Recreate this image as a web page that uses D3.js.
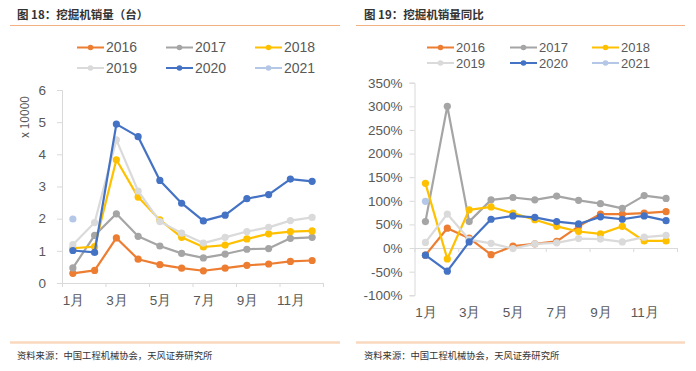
<!DOCTYPE html>
<html><head><meta charset="utf-8">
<script src="https://cdn.jsdelivr.net/npm/d3@7"></script>
<style>
body{margin:0;background:#fff;}
svg{display:block;font-family:"Noto Sans CJK SC","Noto Sans",sans-serif;}
</style></head><body>
<svg id="c" width="696" height="371"></svg>
<script>
const months = [1,2,3,4,5,6,7,8,9,10,11,12];
const monthLabels = [1,3,5,7,9,11];
const years = ["2016","2017","2018","2019","2020","2021"];
const colors = ["#ED7D31","#A5A5A5","#FFC000","#DADADA","#4472C4","#B4C7E7"];

// Sales, unit: 10000 units
const sales2016 = [0.30,0.39,1.40,0.74,0.57,0.46,0.38,0.46,0.55,0.59,0.67,0.70];
const sales2017 = [0.47,1.48,2.15,1.45,1.15,0.92,0.78,0.90,1.05,1.07,1.39,1.42];
const sales2018 = [1.08,1.13,3.83,2.67,1.96,1.42,1.12,1.18,1.37,1.53,1.60,1.62];
const sales2019 = [1.19,1.88,4.45,2.86,1.91,1.55,1.24,1.42,1.60,1.73,1.94,2.04];
const sales2020 = [1.01,0.95,4.94,4.55,3.19,2.48,1.93,2.11,2.62,2.75,3.23,3.16];
const sales2021 = [1.99];

// Year-over-year growth, %
const yoy2016 = [-15,42,21,-14,4,9,14,46,72,72,74,77];
const yoy2017 = [56,300,56,102,107,102,110,101,94,84,111,105];
const yoy2018 = [137,-23,81,87,74,60,46,35,30,46,15,15];
const yoy2019 = [12,72,18,10,-1,9,11,20,19,13,23,27];
const yoy2020 = [-15,-49,13,61,68,65,56,51,66,61,68,58];
const yoy2021 = [99];

const salesTicks = [0,1,2,3,4,5,6];
const yoyTicks = [-100,-50,0,50,100,150,200,250,300,350];

const salesSeries = [sales2016,sales2017,sales2018,sales2019,sales2020,sales2021];
const yoySeries = [yoy2016,yoy2017,yoy2018,yoy2019,yoy2020,yoy2021];

const svg = d3.select("#c");
const axisColor = "#D9D9D9", labelColor = "#595959";

function header(x0, x1, title, tx){
  svg.append("text").attr("x",tx).attr("y",19).attr("font-size",11.5).attr("font-weight","bold")
    .attr("fill","#333").text(title);
  svg.append("line").attr("x1",x0).attr("x2",x1).attr("y1",25.5).attr("y2",25.5)
    .attr("stroke","#F4B183").attr("stroke-width",1);
  svg.append("line").attr("x1",x0).attr("x2",x1).attr("y1",342.5).attr("y2",342.5)
    .attr("stroke","#F8D9BF").attr("stroke-width",2.5);
  svg.append("text").attr("x",tx).attr("y",358.5).attr("font-size",9.3)
    .attr("fill","#333").text("资料来源：中国工程机械协会，天风证券研究所");
}

function legend(lx, rows, fs){
  years.forEach((yr,i)=>{
    const col = i%3, row = Math.floor(i/3);
    const x = lx[col], y = rows[row];
    const g = svg.append("g");
    g.append("line").attr("x1",x).attr("x2",x+27).attr("y1",y).attr("y2",y)
      .attr("stroke",colors[i]).attr("stroke-width",2);
    g.append("circle").attr("cx",x+13.5).attr("cy",y).attr("r",2.8).attr("fill",colors[i]);
    g.append("text").attr("x",x+29).attr("y",y+4.8).attr("font-size",fs)
      .attr("font-family","'Liberation Sans',Arial,sans-serif")
      .attr("fill",labelColor).text(yr);
  });
}

function chart(opt){
  const x = d3.scaleLinear().domain([0.5,12.5]).range(opt.xr);
  const y = d3.scaleLinear().domain(opt.yd).range(opt.yr);

  // y axis
  const ya = svg.append("g").attr("transform",`translate(${opt.xr[0]},0)`)
    .call(d3.axisLeft(y).tickValues(opt.yTicks).tickSize(5).tickPadding(opt.yPad).tickFormat(opt.yFmt));
  ya.selectAll("path,line").attr("stroke",axisColor);
  ya.selectAll("text").attr("fill",labelColor).attr("font-size",13.5).attr("font-family","inherit");

  // x axis line with boundary ticks at zero
  const xa = svg.append("g").attr("transform",`translate(0,${y(0)})`)
    .call(d3.axisBottom(x).tickValues(d3.range(0.5,13,2)).tickSize(4).tickSizeOuter(0).tickFormat(""));
  xa.selectAll("path,line").attr("stroke",axisColor);

  // x labels below the plot
  const xl = svg.append("g").attr("transform",`translate(0,${y(opt.yd[0])+opt.xLabOff})`)
    .call(d3.axisBottom(x).tickValues(monthLabels).tickSize(0).tickFormat(d=>d+"月"));
  xl.select(".domain").remove();
  xl.selectAll("text").attr("fill",labelColor).attr("font-size",13.5).attr("font-family","inherit");

  const line = d3.line().x((d,i)=>x(months[i])).y(d=>y(d));
  opt.series.forEach((s,k)=>{
    if(s.length>1){
      svg.append("path").datum(s).attr("d",line).attr("fill","none")
        .attr("stroke",colors[k]).attr("stroke-width",2.2).attr("stroke-linejoin","round");
    }
    svg.append("g").selectAll("circle").data(s).join("circle")
      .attr("cx",(d,i)=>x(months[i])).attr("cy",d=>y(d)).attr("r",3.6).attr("fill",colors[k]);
  });
}

header(10,340,"图 18：挖掘机销量（台）",17);
header(356,685,"图 19：挖掘机销量同比",364);

legend([77,166,255],[47.5,68],14);
legend([427,510,592],[47.5,63],13);

chart({xr:[62,323], yd:[0,6], yr:[283,90], yTicks:salesTicks, yPad:11, yFmt:d=>d,
       series:salesSeries, xLabOff:9});
svg.append("text").attr("transform","translate(29,117) rotate(-90)").attr("text-anchor","middle")
  .attr("font-size",12).attr("fill",labelColor).text("x 10000");

chart({xr:[414.5,677], yd:[-100,350], yr:[295.3,82.7], yTicks:yoyTicks, yPad:7, yFmt:d=>d+"%",
       series:yoySeries, xLabOff:9});
</script></body></html>
